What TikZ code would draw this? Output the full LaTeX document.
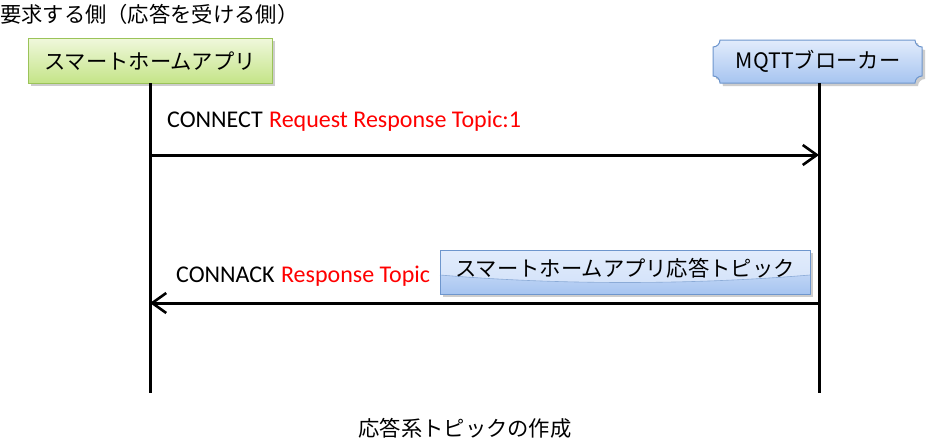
\documentclass[tikz,border=0pt]{standalone}
\usepackage{fontspec}
\setmainfont{Carlito}
\newfontfamily\jp{Noto Sans CJK JP}
\usetikzlibrary{arrows.meta}
\definecolor{gtop}{RGB}{240,248,220}
\definecolor{gbot}{RGB}{196,228,136}
\definecolor{gbd}{RGB}{155,195,89}
\definecolor{btop}{RGB}{226,236,252}
\definecolor{bbot}{RGB}{166,196,240}
\definecolor{bbd}{RGB}{110,150,205}
\definecolor{shd}{RGB}{205,205,205}
\tikzset{
  txt/.style={inner sep=0pt, font=\fontsize{21.3}{24}\selectfont},
  lbl/.style={inner sep=0pt, font=\fontsize{24}{28}\selectfont},
  life/.style={line width=3pt},
  msg/.style={line width=3pt, -{Straight Barb[length=14pt,width=20pt,line width=2.6pt]}},
}
\begin{document}
\begin{tikzpicture}[x=1pt,y=-1pt]
\useasboundingbox[fill=white] (0,0) rectangle (929,439);
% title
\node[txt, anchor=west] (title) at (0,14) {\jp 要求する側（応答を受ける側）};
% app box
\fill[shd] (31,41) rectangle (275,86);
\shade[top color=gtop, bottom color=gbot, draw=gbd, line width=1pt] (28,38) rectangle (272,83);
\node[txt] (app) at (150,61) {\jp スマートホームアプリ};
\coordinate (appb) at (150,83);
\coordinate (appe) at (150,393);
% broker box
\fill[shd] (723,43) -- (918,43) .. controls (918,46.86) and (921.14,50) .. (925,50) -- (925,79) .. controls (921.14,79) and (918,82.14) .. (918,86) -- (723,86) .. controls (723,82.14) and (719.86,79) .. (716,79) -- (716,50) .. controls (719.86,50) and (723,46.86) .. (723,43) -- cycle;
\shade[top color=btop, bottom color=bbot, draw=bbd, line width=1pt] (720,40) -- (915,40) .. controls (915,43.86) and (918.14,47) .. (922,47) -- (922,76) .. controls (918.14,76) and (915,79.14) .. (915,83) -- (720,83) .. controls (720,79.14) and (716.86,76) .. (713,76) -- (713,47) .. controls (716.86,47) and (720,43.86) .. (720,40) -- cycle;
\node[txt] (broker) at (818,61) {\jp MQTTブローカー};
\coordinate (brb) at (819,83);
\coordinate (bre) at (819,393);
% lifelines
\draw[life] (appb) -- (appe);
\draw[life] (brb) -- (bre);
% message 1
\coordinate (m1s) at (150,155);
\coordinate (m1e) at (819,155);
\draw[msg] (m1s) -- (m1e);
\node[lbl, anchor=west] (l1) at (167,121) {CONNECT\hspace{1pt} \textcolor{red}{Request Response Topic:1}};
% topic box
\fill[shd] (443,253) rectangle (813,297);
\shade[top color=btop, bottom color=btop!70!bbot] (440,250) rectangle (810,294);
\shade[top color=btop!40!bbot, bottom color=bbot] (440,275) .. controls (560,285) and (690,285) .. (810,275) -- (810,294) -- (440,294) -- cycle;
\draw[bbd!80!white, line width=0.6pt] (440,275) .. controls (560,285) and (690,285) .. (810,275);
\draw[bbd, line width=1pt] (440,250) rectangle (810,294);
\node[txt] (topic) at (625,268) {\jp スマートホームアプリ応答トピック};
% message 2
\coordinate (m2s) at (819,303);
\coordinate (m2e) at (150,303);
\draw[msg] (m2s) -- (m2e);
\node[lbl, anchor=west] (l2) at (176,276) {CONNACK\hspace{1pt} \textcolor{red}{Response Topic}};
% caption
\node[txt] (cap) at (465,428) {\jp 応答系トピックの作成};
\end{tikzpicture}
\end{document}
